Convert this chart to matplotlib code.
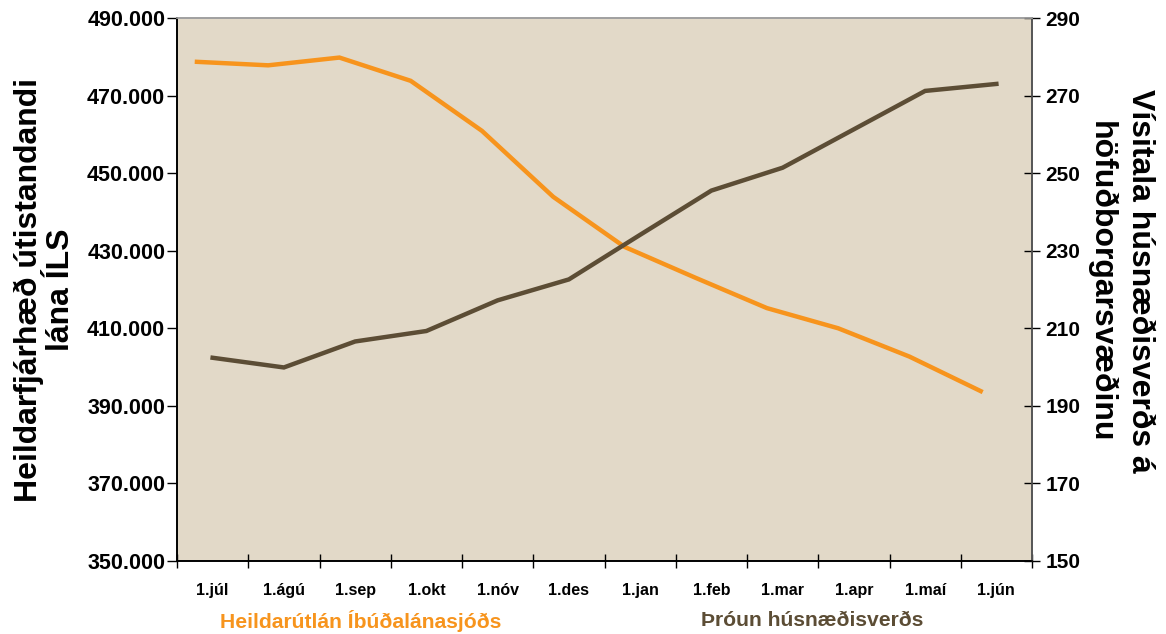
import matplotlib
matplotlib.use("Agg")
import matplotlib.pyplot as plt
import numpy as np
from matplotlib.ticker import FuncFormatter

plt.rcParams['font.family'] = ['Liberation Sans', 'DejaVu Sans']

months = ["1.júl", "1.ágú", "1.sep", "1.okt", "1.nóv", "1.des",
          "1.jan", "1.feb", "1.mar", "1.apr", "1.maí", "1.jún"]
loans = [478700, 477800, 479800, 473800, 460900, 443900,
         431000, 423000, 415200, 410000, 402700, 393800]
price_index = [202.4, 199.9, 206.6, 209.3, 217.2, 222.6,
               234.1, 245.5, 251.4, 261.3, 271.2, 273.0]
left_label = "Heildarfjárhæð útistandandi\nlána ÍLS"
right_label = "Vísitala húsnæðisverðs á\nhöfuðborgarsvæðinu"
loans_name = "Heildarútlán Íbúðalánasjóðs"
price_name = "Þróun húsnæðisverðs"

orange = "#F7941D"
brown = "#5C4D35"
bg = "#E2D9C8"

fig = plt.figure(figsize=(11.66, 6.34), dpi=100)
ax = fig.add_axes([177/1166, 1-561/634, (1032-177)/1166, (561-18)/634])
ax.set_facecolor(bg)
ax2 = ax.twinx()

x = np.arange(len(months))
ax.plot(x - 0.22, loans, color=orange, lw=3.2, solid_joinstyle='miter', zorder=3)
ax2.plot(x, price_index, color=brown, lw=3.2, solid_joinstyle='miter', zorder=3)

ax.set_xlim(-0.5, len(months) - 0.5)
ax.set_ylim(350000, 490000)
ax.set_yticks(np.arange(350000, 490001, 20000))
ax.yaxis.set_major_formatter(FuncFormatter(lambda v, p: f"{int(v):,}".replace(",", ".")))
ax2.set_ylim(150, 290)
ax2.set_yticks(np.arange(150, 291, 20))

ax.set_xticks(np.arange(-0.5, len(months) + 0.5, 1.0))
ax.set_xticklabels([])
ax.set_xticks(x, minor=True)
ax.set_xticklabels(months, minor=True, fontsize=11.5, fontweight='bold')
ax.tick_params(axis='x', which='major', direction='inout', length=10, width=1, color='black')
ax.tick_params(axis='x', which='minor', length=0, pad=16)
ax.tick_params(axis='y', direction='out', length=7, width=1, labelsize=15.5, pad=1.5)
ax2.tick_params(axis='y', direction='inout', length=12, width=1, labelsize=15, pad=3.5)
for lab in ax.get_yticklabels():
    lab.set_fontweight('bold')
for lab in ax2.get_yticklabels():
    lab.set_fontweight('bold')

for a in (ax, ax2):
    a.spines['top'].set_color('#A0A0A0')
    a.spines['left'].set_color('black')
    a.spines['bottom'].set_color('black')
    a.spines['right'].set_color('#555555')
    for s in a.spines.values():
        s.set_linewidth(1.2)

ax.set_ylabel(left_label, fontsize=23, fontweight='bold', labelpad=8, linespacing=1.1)
ax2.set_ylabel(right_label, fontsize=23, fontweight='bold', rotation=270, labelpad=54, linespacing=1.4)
ax2.yaxis.label.set_y(0.515)

fig.text(361/1166, 1-621/634, loans_name, color=orange, fontsize=15.2, fontweight='bold', ha='center', va='center')
fig.text(812/1166, 1-621/634, price_name, color=brown, fontsize=15.2, fontweight='bold', ha='center', va='center')

fig.savefig("out.png", dpi=100)
